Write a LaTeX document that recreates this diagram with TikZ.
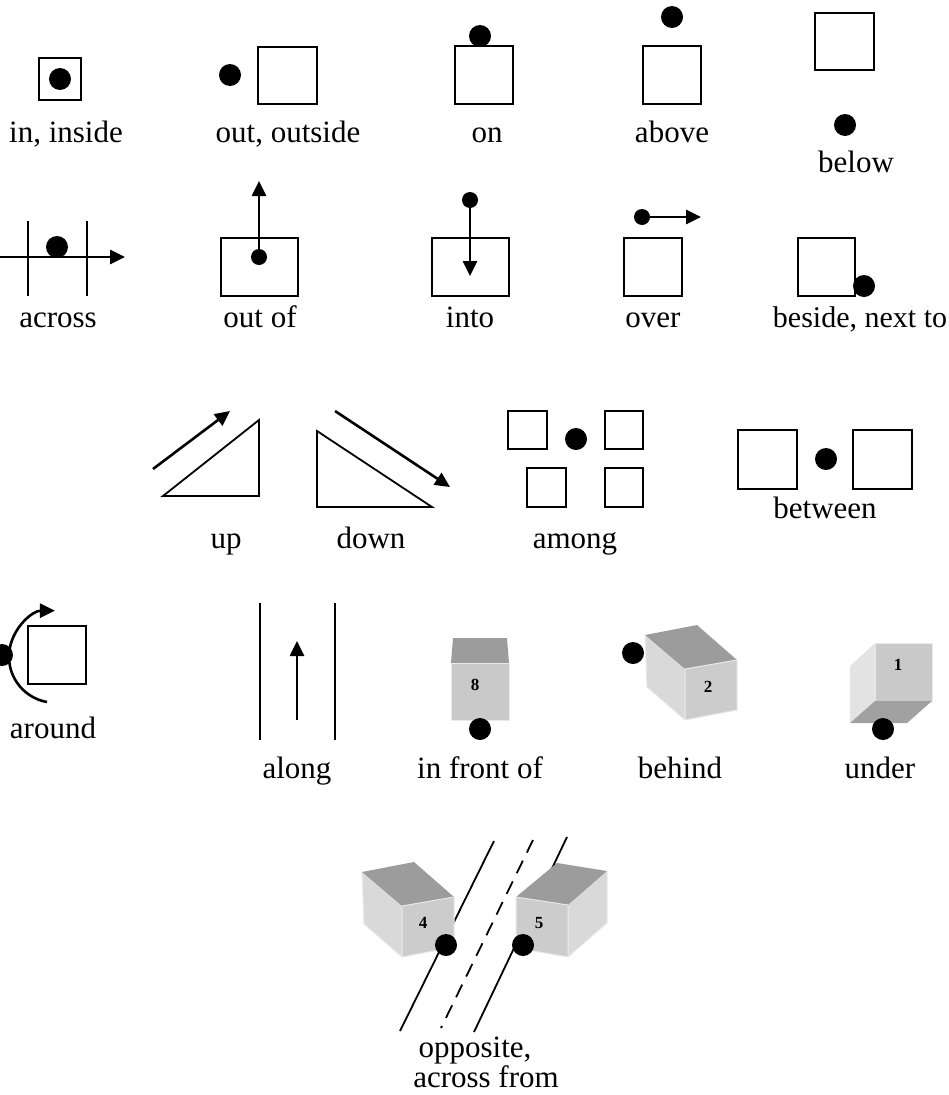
\documentclass[tikz,border=0pt]{standalone}
\usepackage{fontspec}
\setmainfont{Liberation Serif}
\usetikzlibrary{arrows.meta}
\definecolor{faceTop}{HTML}{9C9C9C}
\definecolor{faceFront}{HTML}{C9C9C9}
\definecolor{faceSide}{HTML}{D9D9D9}
\definecolor{faceLight}{HTML}{E3E3E3}
\definecolor{faceEdge}{HTML}{E9E9E9}
\begin{document}
\begin{tikzpicture}[x=1pt,y=-1pt,
  box/.style={draw=black,line width=1.8pt},
  rule/.style={line width=1.8pt},
  arr/.style={line width=2.6pt,-{Triangle[length=15pt,width=14pt]}},
  dot/.style={circle,fill=black,inner sep=0pt,minimum size=22pt},
  sdot/.style={circle,fill=black,inner sep=0pt,minimum size=16pt},
  lbl/.style={anchor=base,inner sep=0pt,font=\fontsize{31}{35}\selectfont},
  num/.style={inner sep=0pt,font=\fontsize{17}{20}\selectfont\bfseries},
  face/.style={draw=faceEdge,line width=1pt,line join=round}]
\useasboundingbox (0,0) rectangle (948,1095);

% ---------- row 1 ----------
\draw[box] (39,58) rectangle (81,100);
\node[dot] (dIn) at (60,79) {};
\node[lbl] (tIn) at (66,142) {in, inside};

\node[dot] (dOut) at (230,75) {};
\draw[box] (258,47) rectangle (317,104);
\node[lbl] (tOut) at (288,142) {out, outside};

\draw[box] (455,46) rectangle (513,104);
\node[dot] (dOn) at (480,36) {};
\node[lbl] (tOn) at (487,142) {on};

\node[dot] (dAbove) at (672,17) {};
\draw[box] (643,46) rectangle (701,104);
\node[lbl] (tAbove) at (672,142) {above};

\draw[box] (815,13) rectangle (874,70);
\node[dot] (dBelow) at (845,125) {};
\node[lbl] (tBelow) at (856,172) {below};

% ---------- row 2 ----------
\coordinate (acrossL) at (0,257);
\coordinate (acrossR) at (125,257);
\draw[rule] (28,221) -- (28,296);
\draw[rule] (87,221) -- (87,296);
\draw[arr] (acrossL) -- (acrossR);
\node[dot] (dAcross) at (57,247) {};
\node[lbl] (tAcross) at (58,327) {across};

\draw[box] (221,238) rectangle (298,296);
\node[sdot] (dOutOf) at (259,257) {};
\coordinate (tipOutOf) at (259,181);
\draw[arr] (dOutOf.center) -- (tipOutOf);
\node[lbl] (tOutOf) at (260,327) {out of};

\draw[box] (432,238) rectangle (509,296);
\node[sdot] (dInto) at (470,200) {};
\coordinate (tipInto) at (470,276);
\draw[arr] (dInto.center) -- (tipInto);
\node[lbl] (tInto) at (470,327) {into};

\node[sdot] (dOver) at (642,217) {};
\coordinate (tipOver) at (701,217);
\draw[arr] (dOver.center) -- (tipOver);
\draw[box] (624,238) rectangle (682,296);
\node[lbl] (tOver) at (653,327) {over};

\draw[box] (798,238) rectangle (855,296);
\node[dot] (dBeside) at (864,286) {};
\node[lbl,font=\fontsize{30}{34}\selectfont] (tBeside) at (860,327) {beside, next to};

% ---------- row 3 ----------
\draw[rule,line join=miter] (163,496) -- (259,496) -- (259,420) -- cycle;
\coordinate (upA) at (153,469);
\coordinate (upB) at (230,411);
\draw[arr] (upA) -- (upB);
\node[lbl] (tUp) at (226,548) {up};

\draw[rule,line join=miter] (317,431) -- (317,507) -- (432,507) -- cycle;
\coordinate (downA) at (335,411);
\coordinate (downB) at (450,487);
\draw[arr] (downA) -- (downB);
\node[lbl] (tDown) at (371,548) {down};

\draw[box] (508,411) rectangle (547,449);
\draw[box] (605,411) rectangle (643,449);
\draw[box] (527,468) rectangle (566,507);
\draw[box] (605,468) rectangle (643,507);
\node[dot] (dAmong) at (576,439) {};
\node[lbl] (tAmong) at (575,548) {among};

\draw[box] (738,430) rectangle (797,489);
\draw[box] (853,430) rectangle (912,489);
\node[dot] (dBetween) at (826,459) {};
\node[lbl] (tBetween) at (825,518) {between};

% ---------- row 4 ----------
\draw[box] (28,626) rectangle (86,684);
\draw[arr] (47,702) arc[start angle=-100,end angle=-270,radius=46pt];
\node[dot] (dAround) at (2,655) {};
\node[lbl] (tAround) at (53,738) {around};

\draw[rule] (260,603) -- (260,740);
\draw[rule] (335,603) -- (335,740);
\coordinate (alongA) at (297,720);
\coordinate (alongB) at (297,641);
\draw[arr] (alongA) -- (alongB);
\node[lbl] (tAlong) at (297,778) {along};

% cube seen from the front
\fill[faceTop] (453,638) -- (507,638) -- (509,663) -- (451,663) -- cycle;
\filldraw[face,fill=faceFront] (451,663) rectangle (509,720);
\node[num] (n8) at (475,685) {8};
\node[dot] (dFront) at (480,729) {};
\node[lbl] (tFront) at (480,778) {in front of};

% cube with the dot behind it
\node[dot] (dBehind) at (633,653) {};
\filldraw[face,fill=faceSide] (645,635) -- (685,669) -- (685,720) -- (647,687) -- cycle;
\fill[faceTop] (645,635) -- (697,625) -- (737,660) -- (685,669) -- cycle;
\filldraw[face,fill=faceFront!80!faceSide] (685,669) -- (737,660) -- (737,710) -- (685,720) -- cycle;
\node[num] (n2) at (708,687) {2};
\node[lbl] (tBehind) at (680,778) {behind};

% cube seen from below
\filldraw[face,fill=faceFront] (875,643) rectangle (932,701);
\fill[faceLight] (875,643) -- (850,666) -- (850,723) -- (875,701) -- cycle;
\fill[faceTop!95!white] (875,701) -- (932,701) -- (907,723) -- (850,723) -- cycle;
\node[num] (n1) at (898,665) {1};
\node[dot] (dUnder) at (883,729) {};
\node[lbl] (tUnder) at (880,778) {under};

% ---------- row 5 ----------
\coordinate (l1a) at (494,841);
\coordinate (l1b) at (400,1031);
\coordinate (l2a) at (533,840);
\coordinate (l2b) at (441,1028);
\coordinate (l3a) at (567,837);
\coordinate (l3b) at (474,1032);
\draw[rule] (l1a) -- (l1b);
\draw[rule,dash pattern=on 14pt off 9pt] (l2a) -- (l2b);
\draw[rule] (l3a) -- (l3b);

% cube 4
\filldraw[face,fill=faceSide] (362,872) -- (402,906) -- (402,957) -- (364,924) -- cycle;
\fill[faceTop] (362,872) -- (414,862) -- (454,897) -- (402,906) -- cycle;
\filldraw[face,fill=faceFront!80!faceSide] (402,906) -- (454,897) -- (454,947) -- (402,957) -- cycle;
\node[num] (n4) at (423,923) {4};
\node[dot] (dOpp4) at (446,945) {};

% cube 5
\filldraw[face,fill=faceSide] (568,905) -- (607,871) -- (607,923) -- (568,957) -- cycle;
\fill[faceTop] (516,897) -- (557,863) -- (607,871) -- (568,905) -- cycle;
\filldraw[face,fill=faceFront!80!faceSide] (516,897) -- (568,905) -- (568,957) -- (516,948) -- cycle;
\node[num] (n5) at (539,923) {5};
\node[dot] (dOpp5) at (523,945) {};

\node[lbl] (tOpp1) at (475,1057) {opposite,};
\node[lbl] (tOpp2) at (486,1087) {across from};
\end{tikzpicture}
\end{document}
